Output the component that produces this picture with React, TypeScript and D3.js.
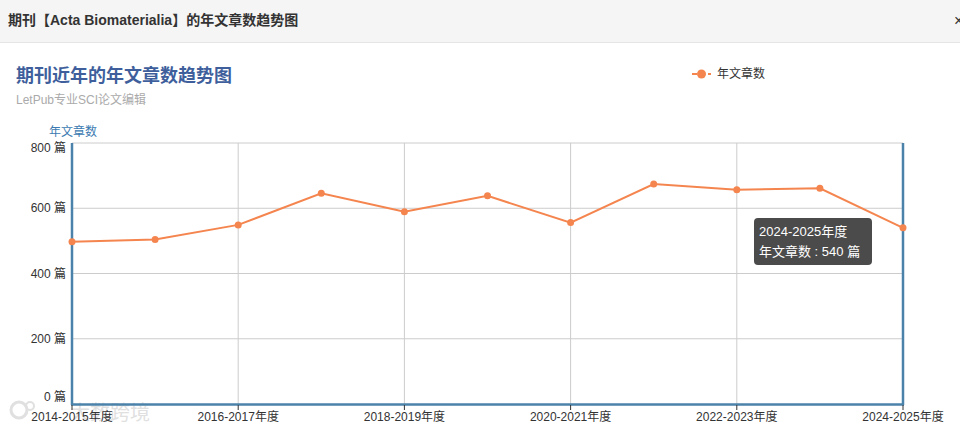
import React from 'react';
import * as d3 from 'd3';

const categories = ['2014-2015年度','2015-2016年度','2016-2017年度','2017-2018年度','2018-2019年度','2019-2020年度','2020-2021年度','2021-2022年度','2022-2023年度','2023-2024年度','2024-2025年度'];
const articleCounts = [497, 504, 549, 646, 589, 638, 556, 674, 657, 661, 540];
const yTicks = [0, 200, 400, 600, 800];
const seriesName = '年文章数';
const unit = '篇';

const W = 960, H = 430;
const FONT = '"Liberation Sans", Arial, "Noto Sans CJK SC", sans-serif';

export default function App() {
  const x = d3.scalePoint<string>().domain(categories).range([72, 903]);
  const y = d3.scaleLinear().domain([0, 800]).range([404, 143]);
  const line = d3.line<number>().x((_, i) => x(categories[i])!).y(d => y(d));
  const lineColor = '#f5854f';
  const axisColor = '#4a82aa';
  const labeled = categories.filter((_, i) => i % 2 === 0);
  const lastI = categories.length - 1;
  const tipX = 754, tipY = 218;
  const labelShift = (t: number) => (t === 800 ? 5 : t === 0 ? -7 : 0);

  return (
    <svg width={W} height={H} style={{ position: 'absolute', left: 0, top: 0, fontFamily: FONT }}>
      <rect x={0} y={0} width={W} height={H} fill="#fff" />
      {/* header */}
      <rect x={0} y={0} width={W} height={42} fill="#f5f5f5" />
      <line x1={0} x2={W} y1={42.5} y2={42.5} stroke="#e5e5e5" />
      <text x={8} y={25} fontSize={14} fontWeight="bold" fill="#333">期刊【Acta Biomaterialia】的年文章数趋势图</text>
      <text x={954} y={26} fontSize={16} fill="#333">×</text>

      {/* title */}
      <text x={16} y={82} fontSize={18} fontWeight="bold" fill="#3e5f9c">期刊近年的年文章数趋势图</text>
      <text x={16} y={104} fontSize={12} fill="#aaa">LetPub专业SCI论文编辑</text>

      {/* legend */}
      <line x1={692} x2={711} y1={74} y2={74} stroke={lineColor} strokeWidth={2} strokeDasharray="5,3" />
      <circle cx={701.5} cy={74} r={4.5} fill={lineColor} />
      <text x={717} y={78} fontSize={12} fill="#333">{seriesName}</text>

      {/* y axis name */}
      <text x={73} y={136} fontSize={12} fill="#3a7ab0" textAnchor="middle">{seriesName}</text>

      {/* grid */}
      {yTicks.filter(t => t > 0).map(t => (
        <line key={t} x1={72} x2={903} y1={y(t)} y2={y(t)} stroke="#ccc" strokeWidth={1} />
      ))}
      {labeled.slice(1, -1).map(c => (
        <line key={c} x1={x(c)} x2={x(c)} y1={143} y2={404} stroke="#ccc" strokeWidth={1} />
      ))}

      {/* y labels */}
      {yTicks.map(t => (
        <text key={t} x={66} y={y(t) + 4 + labelShift(t)} fontSize={12} fill="#333" textAnchor="end">{`${t} ${unit}`}</text>
      ))}

      {/* watermark */}
      <g opacity={0.45}>
        <circle cx={19} cy={410} r={8} fill="none" stroke="#bbb" strokeWidth={3} />
        <circle cx={30} cy={406} r={4} fill="none" stroke="#bbb" strokeWidth={2} />
        <text x={70} y={420} fontSize={20} fill="#bbb">大数跨境</text>
      </g>

      {/* axes */}
      <line x1={72} x2={72} y1={143} y2={405} stroke={axisColor} strokeWidth={2.5} />
      <line x1={903} x2={903} y1={143} y2={405} stroke={axisColor} strokeWidth={2.5} />
      <line x1={71} x2={904} y1={404.5} y2={404.5} stroke={axisColor} strokeWidth={2.5} />
      {labeled.map(c => (
        <line key={c} x1={x(c)} x2={x(c)} y1={405} y2={410} stroke="#333" strokeWidth={1} />
      ))}
      {labeled.map(c => (
        <text key={c} x={x(c)} y={421} fontSize={12} fill="#333" textAnchor="middle">{c}</text>
      ))}

      {/* series */}
      <path d={line(articleCounts)!} fill="none" stroke={lineColor} strokeWidth={2} />
      {articleCounts.map((v, i) => (
        <circle key={i} cx={x(categories[i])} cy={y(v)} r={3.5} fill={lineColor} />
      ))}

      {/* tooltip */}
      <rect x={tipX} y={tipY} width={118} height={47} rx={4} fill="rgba(50,50,50,0.88)" />
      <text x={tipX + 5} y={tipY + 18} fontSize={13} fill="#fff">{categories[lastI]}</text>
      <text x={tipX + 5} y={tipY + 38} fontSize={13} fill="#fff">{`${seriesName} : ${articleCounts[lastI]} ${unit}`}</text>
    </svg>
  );
}
